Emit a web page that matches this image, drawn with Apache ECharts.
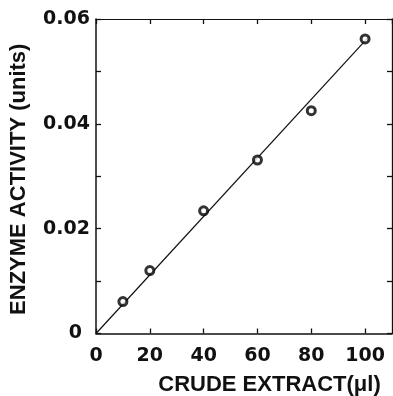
<!DOCTYPE html>
<html>
<head>
<meta charset="utf-8">
<script src="https://cdn.jsdelivr.net/npm/echarts@6/dist/echarts.min.js"></script>
<style>
  html, body { margin: 0; padding: 0; background: #fff; }
  #chart { width: 393px; height: 396px; }
</style>
</head>
<body>
<div id="chart"></div>
<script>
  // measured points (crude extract in µl, enzyme activity in units)
  const volumes = [10, 20, 40, 60, 80, 100]
  const activity = [0.0061, 0.0120, 0.0234, 0.0331, 0.0425, 0.0562]
  // fitted straight line, drawn through the origin
  const fitX = [0, 101]
  const fitY = [0, 0.0564]

  const labelFont = {
    color: '#111',
    fontFamily: 'DejaVu Sans',
    fontWeight: 'bold',
    fontSize: 19
  }
  const nameFont = {
    color: '#111',
    fontFamily: 'Liberation Sans',
    fontWeight: 'bold',
    fontSize: 22
  }

  const chart = echarts.init(document.getElementById('chart'))

  const frameAxis = (lineWidth) => ({
    axisLine: { show: true, onZero: false, lineStyle: { color: '#111', width: lineWidth } },
    axisTick: { show: true, inside: true, length: 5, lineStyle: { color: '#111', width: 1.3 } },
    splitLine: { show: false }
  })

  chart.setOption({
    animation: false,
    grid: { left: 96, right: 1, top: 19, bottom: 62.5, containLabel: false, outerBoundsMode: 'none' },
    xAxis: [
      Object.assign(frameAxis(1.5), {
        type: 'value',
        position: 'bottom',
        min: 0,
        max: 110,
        interval: 20,
        axisLabel: Object.assign({ margin: 13, showMaxLabel: false,
          formatter: v => (v > 100 ? '' : String(v)) }, labelFont),
        name: 'CRUDE EXTRACT(\u03bcl)',
        nameLocation: 'middle',
        nameGap: 40,
        nameTextStyle: Object.assign({ padding: [0, 0, 0, 51] }, nameFont)
      }),
      Object.assign(frameAxis(1.1), {
        type: 'value',
        position: 'top',
        min: 0,
        max: 110,
        interval: 20,
        axisLabel: { show: false }
      })
    ],
    yAxis: [
      Object.assign(frameAxis(1.5), {
        type: 'value',
        position: 'left',
        min: 0,
        max: 0.06,
        interval: 0.01,
        axisLabel: Object.assign({
          margin: 6,
          formatter: v => {
            const k = Math.round(v * 100)
            if (k % 2) return ''
            if (k === 0) return '{z|0}'
            return v.toFixed(2)
          },
          rich: { z: Object.assign({ padding: [0, 8, 0, 0] }, labelFont) }
        }, labelFont),
        name: 'ENZYME ACTIVITY (units)',
        nameLocation: 'middle',
        nameGap: 66,
        nameTextStyle: Object.assign({ padding: [0, 6, 0, 0] }, nameFont)
      }),
      Object.assign(frameAxis(1.3), {
        type: 'value',
        position: 'right',
        min: 0,
        max: 0.06,
        interval: 0.01,
        axisLabel: { show: false }
      })
    ],
    series: [
      {
        type: 'line',
        data: fitX.map((x, i) => [x, fitY[i]]),
        symbol: 'none',
        lineStyle: { color: '#111', width: 1.2 },
        z: 2
      },
      {
        type: 'scatter',
        data: volumes.map((x, i) => [x, activity[i]]),
        symbol: 'circle',
        symbolSize: 8,
        itemStyle: { color: '#fff', borderColor: '#000', borderWidth: 3 },
        z: 3
      }
    ]
  })
</script>
</body>
</html>
